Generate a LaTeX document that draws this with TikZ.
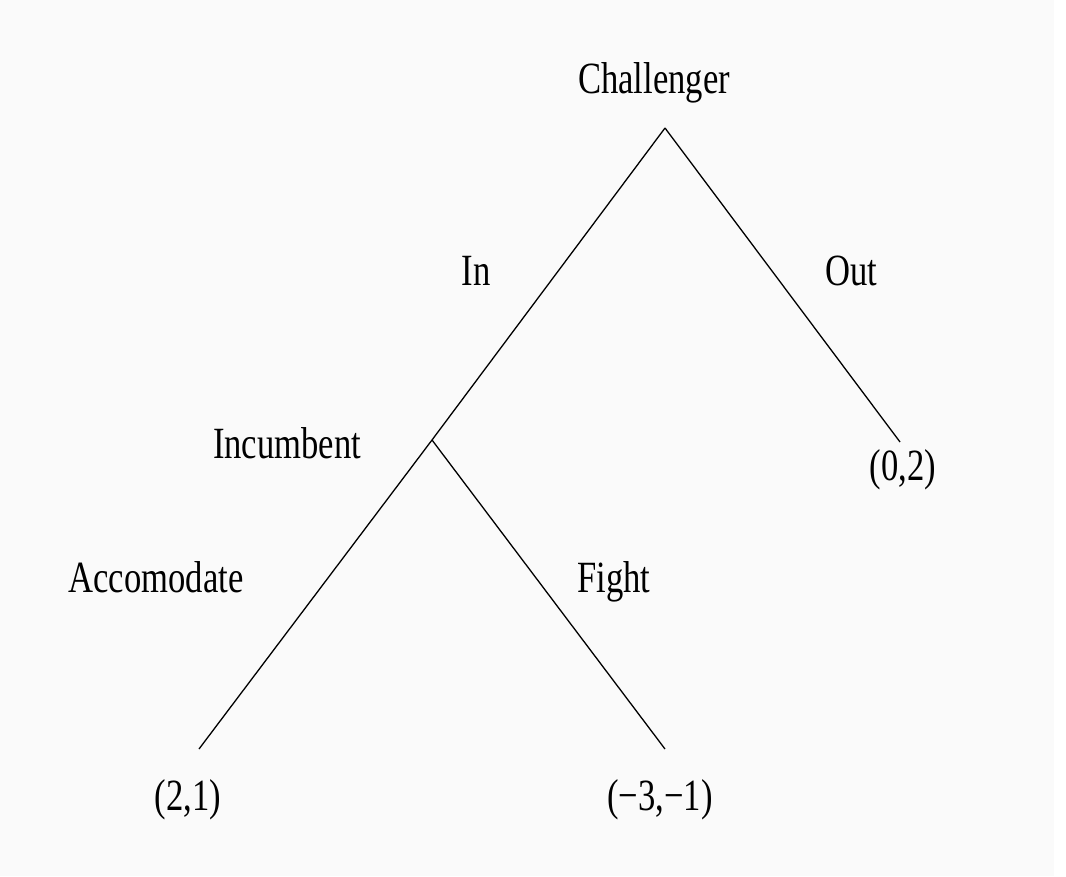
\documentclass[tikz,border=0pt]{standalone}
\usepackage{fontspec}
\setmainfont{Liberation Serif}
\usepackage{tikz}

\begin{document}
\begin{tikzpicture}[x=1pt,y=-1pt]
            \useasboundingbox (0,0) rectangle (1066,876);
            \fill[black!2] (0,0) rectangle (1054,876);
            \begin{scope}[every node/.style={anchor=base,inner sep=0pt,yscale=1.29,font=\fontsize{34.6}{40}\selectfont}]
                \coordinate (1) at (665,128);
                \coordinate (2) at (432,440);
                \coordinate (3) at (900,442);
                \coordinate (4) at (199,749);
                \coordinate (5) at (665,749);

                \node (p1) at (654,93) {Challenger};
                \node (p2) at (287,458) {Incumbent};

                \node (a1) at (476,285) {In};
                \node (a2) at (851,285) {Out};
                \node (a3) at (156,592) {Accomodate};
                \node (a4) at (614,592) {Fight};

                \node (u3) at (903,480) {(0,2)};
                \node (u4) at (188,810) {(2,1)};
                \node (u5) at (660,810) {(−3,−1)};
            \end{scope}
            \begin{scope}[every edge/.style={draw,line width=1.3pt}]
                \path [-] (1) edge node {} (2);
                \path [-] (1) edge node {} (3);
                \path [-] (2) edge node {} (4);
                \path [-] (2) edge node {} (5);
            \end{scope}
        \end{tikzpicture}
\end{document}
